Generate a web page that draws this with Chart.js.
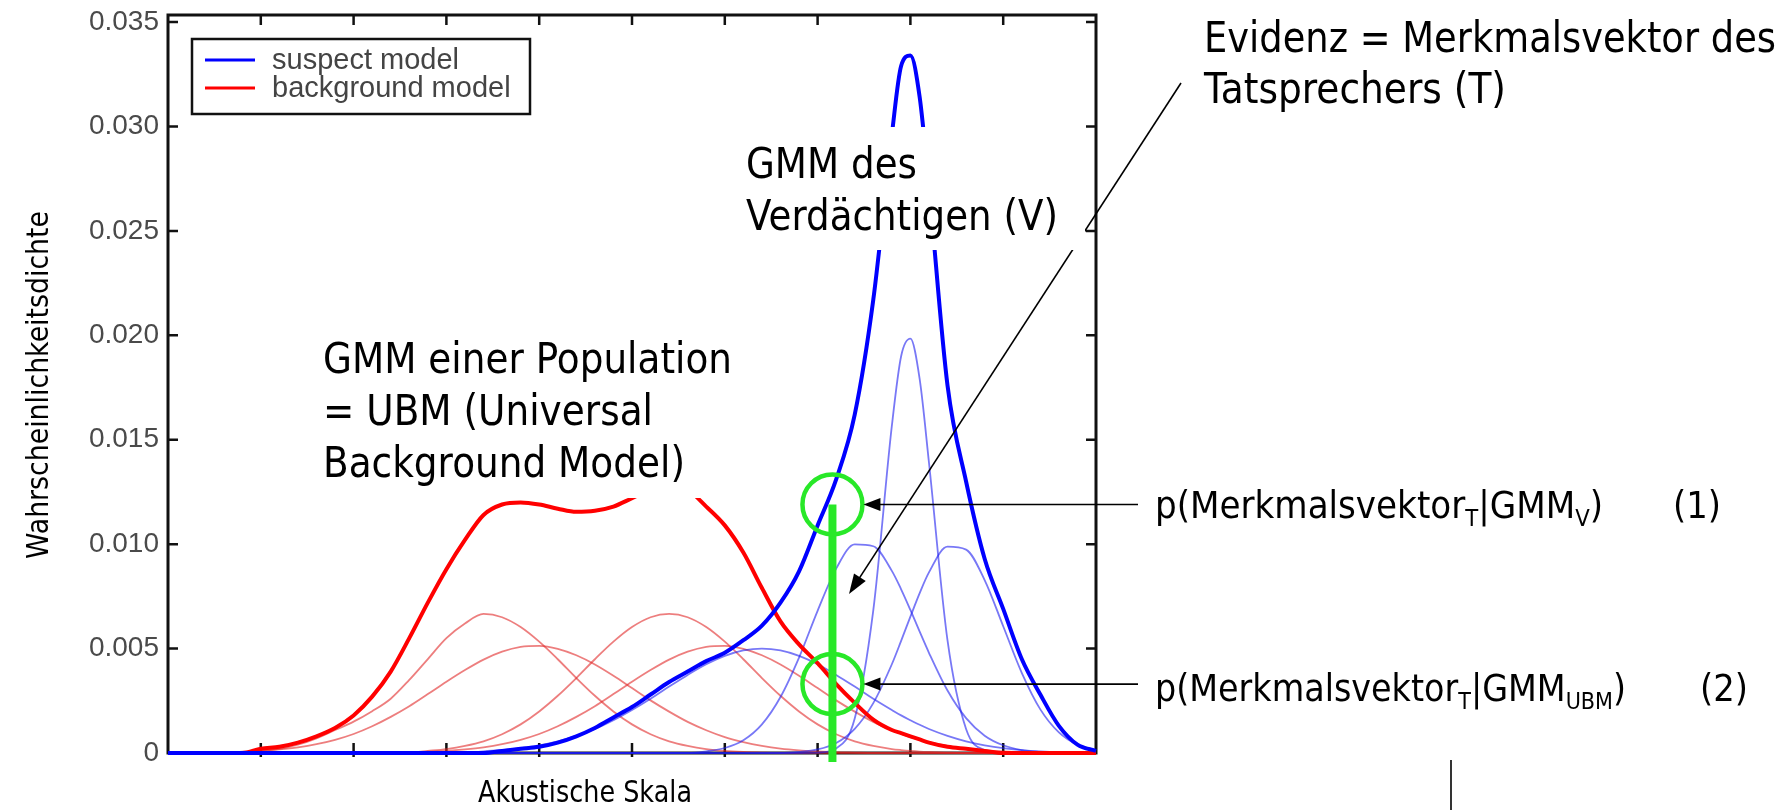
<!DOCTYPE html>
<html>
<head>
<meta charset="utf-8">
<title>GMM - Wahrscheinlichkeitsdichte</title>
<script src="https://cdn.jsdelivr.net/npm/chart.js@4.4.1/dist/chart.umd.min.js"></script>
<style>
  html, body { margin: 0; padding: 0; background: #fff; }
  canvas { display: block; }
</style>
</head>
<body>
<canvas id="chart" width="1789" height="810"></canvas>
<script>
// sample positions on the (unlabelled) acoustic scale
const xs = [0, 0.2, 0.4, 0.6, 0.8, 1, 1.2, 1.4, 1.6, 1.8,
  2, 2.2, 2.4, 2.6, 2.8, 3, 3.2, 3.4, 3.6, 3.8,
  4, 4.2, 4.4, 4.6, 4.8, 5, 5.2, 5.4, 5.6, 5.8,
  6, 6.2, 6.4, 6.6, 6.8, 7, 7.2, 7.4, 7.6, 7.8,
  7.9, 8, 8.1,
  8.2, 8.4, 8.6, 8.8, 9, 9.2, 9.4, 9.6, 9.8, 10];

// thick curves
const suspectModel = [0, 0, 0, 0, 0, 0, 0, 0, 0, 0,
  0, 0, 0, 0, 0, 0, 0, 0, 0.0001, 0.0002,
  0.0003, 0.0005, 0.0008, 0.0012, 0.0017, 0.0022, 0.0028, 0.0034, 0.0039, 0.0044,
  0.0048, 0.0054, 0.0061, 0.0072, 0.0087, 0.0109, 0.0131, 0.0162, 0.0217, 0.0296,
  0.0329, 0.0334, 0.0314,
  0.0271, 0.0176, 0.013, 0.0093, 0.0069, 0.0045, 0.0028, 0.0013, 0.0004, 0.0001];
const backgroundModel = [0, 0, 0, 0, 0, 0.0002, 0.0003, 0.0005, 0.0008, 0.0012,
  0.0018, 0.0027, 0.0039, 0.0055, 0.0072, 0.0088, 0.0102, 0.0114, 0.0119, 0.012,
  0.0119, 0.0117, 0.01155, 0.0116, 0.0118, 0.0122, 0.0126, 0.0128, 0.0126, 0.0118,
  0.0109, 0.0096, 0.0079, 0.0063, 0.0052, 0.0043, 0.0033, 0.0024, 0.0016, 0.0011,
  0.00095, 0.0008, 0.00065,
  0.0005, 0.0003, 0.0002, 0.0001, 0, 0, 0, 0, 0, 0];

// thin mixture components of the suspect GMM
const suspectComp1 = [0, 0, 0, 0, 0, 0, 0, 0, 0, 0,
  0, 0, 0, 0, 0, 0, 0, 0.00008, 0.00014, 0.00023,
  0.00037, 0.00056, 0.00082, 0.00115, 0.00157, 0.00206, 0.0026, 0.00318, 0.00374, 0.00425,
  0.00465, 0.00491, 0.005, 0.00491, 0.00465, 0.00425, 0.00374, 0.00318, 0.0026, 0.00206,
  0.0018, 0.00157, 0.00135,
  0.00115, 0.00082, 0.00056, 0.00037, 0.00023, 0.00014, 0.00008, 0.00004, 0.00002, 0];
const suspectComp2 = [0, 0, 0, 0, 0, 0, 0, 0, 0, 0,
  0, 0, 0, 0, 0, 0, 0, 0, 0, 0,
  0, 0, 0, 0, 0, 0, 0, 0, 0, 0.00008,
  0.00024, 0.00061, 0.00137, 0.00268, 0.00457, 0.00681, 0.00883, 0.00999, 0.0099, 0.00872,
  0.00784, 0.00685, 0.00581,
  0.0048, 0.00299, 0.00167, 0.00083, 0.00037, 0.00014, 0.00005, 0, 0, 0];
const suspectComp3 = [0, 0, 0, 0, 0, 0, 0, 0, 0, 0,
  0, 0, 0, 0, 0, 0, 0, 0, 0, 0,
  0, 0, 0, 0, 0, 0, 0, 0, 0, 0,
  0, 0, 0, 0, 0, 0.00002, 0.00022, 0.00165, 0.00683, 0.01566,
  0.019, 0.01984, 0.0179,
  0.01391, 0.00539, 0.00115, 0.00014, 0.00001, 0, 0, 0, 0, 0];
const suspectComp4 = [0, 0, 0, 0, 0, 0, 0, 0, 0, 0,
  0, 0, 0, 0, 0, 0, 0, 0, 0, 0,
  0, 0, 0, 0, 0, 0, 0, 0, 0, 0,
  0, 0, 0, 0, 0.00005, 0.00017, 0.00048, 0.00116, 0.00239, 0.00425,
  0.00537, 0.00653, 0.00766,
  0.00865, 0.00988, 0.00974, 0.00828, 0.00607, 0.00384, 0.00209, 0.00099, 0.0004, 0.00014];

// thin mixture components of the background model (UBM)
const backgroundComp1 = [0, 0, 0, 0, 0.00005, 0.0001, 0.0002, 0.0004, 0.0007, 0.0011,
  0.0015, 0.002, 0.0026, 0.0035, 0.0045, 0.0055, 0.0062, 0.00666, 0.0065, 0.00603,
  0.00533, 0.00449, 0.00359, 0.00274, 0.00199, 0.00137, 0.0009, 0.00056, 0.00034, 0.00019,
  0.0001, 0.00005, 0.00002, 0, 0, 0, 0, 0, 0, 0,
  0, 0, 0,
  0, 0, 0, 0, 0, 0, 0, 0, 0, 0];
const backgroundComp2 = [0, 0, 0, 0, 0.00006, 0.0001, 0.00017, 0.00027, 0.00042, 0.00063,
  0.00091, 0.00128, 0.00173, 0.00224, 0.00282, 0.00341, 0.00397, 0.00447, 0.00485, 0.00508,
  0.00513, 0.00499, 0.00468, 0.00424, 0.0037, 0.00311, 0.00252, 0.00198, 0.00149, 0.00109,
  0.00076, 0.00052, 0.00034, 0.00021, 0.00013, 0.00008, 0.00004, 0.00002, 0, 0,
  0, 0, 0,
  0, 0, 0, 0, 0, 0, 0, 0, 0, 0];
const backgroundComp3 = [0, 0, 0, 0, 0, 0, 0, 0, 0, 0,
  0, 0, 0, 0.00002, 0.0001, 0.00019, 0.00034, 0.00056, 0.0009, 0.00137,
  0.00199, 0.00274, 0.00359, 0.00449, 0.00533, 0.00603, 0.0065, 0.00666, 0.0065, 0.00603,
  0.00533, 0.00449, 0.00359, 0.00274, 0.00199, 0.00137, 0.0009, 0.00056, 0.00034, 0.00019,
  0.00014, 0.0001, 0.00007,
  0.00005, 0.00002, 0, 0, 0, 0, 0, 0, 0, 0];
const backgroundComp4 = [0, 0, 0, 0, 0, 0, 0, 0, 0, 0,
  0, 0, 0, 0, 0.00006, 0.0001, 0.00017, 0.00027, 0.00042, 0.00063,
  0.00091, 0.00128, 0.00173, 0.00224, 0.00282, 0.00341, 0.00397, 0.00447, 0.00485, 0.00508,
  0.00513, 0.00499, 0.00468, 0.00424, 0.0037, 0.00311, 0.00252, 0.00198, 0.00149, 0.00109,
  0.00092, 0.00076, 0.00064,
  0.00052, 0.00034, 0.00021, 0.00013, 0.00008, 0.00004, 0.00002, 0, 0, 0];

const xTickValues = [0, 1, 2, 3, 4, 5, 6, 7, 8, 9, 10];
const yTickValues = [0, 0.005, 0.01, 0.015, 0.02, 0.025, 0.03, 0.035];
const yTickLabels = ['0', '0.005', '0.010', '0.015', '0.020', '0.025', '0.030', '0.035'];
const seriesLabels = ['suspect model', 'background model'];

// the evidence vector and the two likelihoods that are marked
const evidenceX = 7.16;
const evidenceLik = [0.0119, 0.0033];

const TEXT_FONT = '"DejaVu Sans", Verdana, sans-serif';
const GREEN = 'rgb(40, 232, 40)';

function pts(arr) {
  return xs.map((x, i) => ({ x: x, y: arr[i] }));
}

// Tahoma-like text: DejaVu squeezed to the measured width
function fitText(ctx, text, x, y, size, width, rotate) {
  ctx.save();
  ctx.font = size + 'px ' + TEXT_FONT;
  const sx = width / ctx.measureText(text).width;
  ctx.translate(x, y);
  if (rotate) ctx.rotate(rotate);
  ctx.scale(sx, 1);
  ctx.textAlign = 'left';
  ctx.textBaseline = 'alphabetic';
  ctx.fillStyle = '#000';
  ctx.fillText(text, 0, 0);
  ctx.restore();
}

// text with subscripts, parts = [[text, isSub], ...]
function richText(ctx, parts, x, y, size, width) {
  const subSize = Math.round(size * 0.62);
  ctx.save();
  let natural = 0;
  parts.forEach(p => {
    ctx.font = (p[1] ? subSize : size) + 'px ' + TEXT_FONT;
    natural += ctx.measureText(p[0]).width;
  });
  ctx.translate(x, y);
  ctx.scale(width / natural, 1);
  ctx.fillStyle = '#000';
  ctx.textBaseline = 'alphabetic';
  let cx = 0;
  parts.forEach(p => {
    ctx.font = (p[1] ? subSize : size) + 'px ' + TEXT_FONT;
    ctx.fillText(p[0], cx, p[1] ? size * 0.22 : 0);
    cx += ctx.measureText(p[0]).width;
  });
  ctx.restore();
}

function arrow(ctx, x1, y1, x2, y2, len, half) {
  const a = Math.atan2(y2 - y1, x2 - x1);
  const c = Math.cos(a), s = Math.sin(a);
  ctx.beginPath();
  ctx.moveTo(x1, y1);
  ctx.lineTo(x2 - c * len * 0.8, y2 - s * len * 0.8);
  ctx.stroke();
  ctx.beginPath();
  ctx.moveTo(x2, y2);
  ctx.lineTo(x2 - len * c + half * s, y2 - len * s - half * c);
  ctx.lineTo(x2 - len * c - half * s, y2 - len * s + half * c);
  ctx.closePath();
  ctx.fill();
}

const overlay = {
  id: 'overlay',
  beforeDatasetsDraw(chart) {
    const { ctx, chartArea: a, scales: { x, y } } = chart;
    ctx.save();
    // matlab style box with inward ticks
    ctx.strokeStyle = '#111';
    ctx.lineWidth = 3;
    ctx.strokeRect(a.left, a.top, a.right - a.left, a.bottom - a.top);
    ctx.lineWidth = 2.5;
    ctx.beginPath();
    x.ticks.forEach(t => {
      if (t.value <= x.min || t.value >= x.max) return;
      const px = x.getPixelForValue(t.value);
      ctx.moveTo(px, a.top); ctx.lineTo(px, a.top + 10);
      ctx.moveTo(px, a.bottom + 4); ctx.lineTo(px, a.bottom - 10);
    });
    y.ticks.forEach(t => {
      const py = y.getPixelForValue(t.value);
      ctx.moveTo(a.left, py); ctx.lineTo(a.left + 10, py);
      ctx.moveTo(a.right, py); ctx.lineTo(a.right - 10, py);
    });
    ctx.stroke();
    fitText(ctx, 'Akustische Skala', 478, 802, 30, 214);
    fitText(ctx, 'Wahrscheinlichkeitsdichte', 48, 559, 31, 348, -Math.PI / 2);
    ctx.restore();
  },
  afterDatasetsDraw(chart) {
    const { ctx, chartArea: a, scales: { x, y } } = chart;
    const ds = chart.data.datasets;
    ctx.save();

    // legend
    ctx.fillStyle = '#fff';
    ctx.fillRect(192, 39, 338, 75);
    ctx.strokeStyle = '#111';
    ctx.lineWidth = 2.5;
    ctx.strokeRect(192, 39, 338, 75);
    ctx.font = '29px "Liberation Sans", Arial, sans-serif';
    ctx.textBaseline = 'middle';
    [0, 1].forEach(i => {
      const ly = i === 0 ? 60 : 88;
      ctx.strokeStyle = ds[i].borderColor;
      ctx.lineWidth = 3;
      ctx.beginPath(); ctx.moveTo(205, ly); ctx.lineTo(255, ly); ctx.stroke();
      ctx.fillStyle = '#444';
      ctx.fillText(ds[i].label, 272, ly + 1);
    });

    // pointer from the evidence text down to the suspect components
    ctx.strokeStyle = '#000';
    ctx.fillStyle = '#000';
    ctx.lineWidth = 1.6;
    arrow(ctx, 1181, 83, 849, 594, 20, 7);

    // white text boxes hide what lies behind them
    ctx.fillStyle = '#fff';
    ctx.fillRect(314, 335, 426, 163);
    ctx.fillRect(736, 127, 349, 123);
    ctx.fillRect(1195, 0, 594, 115);

    fitText(ctx, 'Evidenz = Merkmalsvektor des', 1204, 52, 42, 572);
    fitText(ctx, 'Tatsprechers (T)', 1204, 103, 42, 302);
    fitText(ctx, 'GMM des', 746, 178, 42, 171);
    fitText(ctx, 'Verdächtigen (V)', 746, 230, 42, 312);
    fitText(ctx, 'GMM einer Population', 323, 373, 42, 409);
    fitText(ctx, '= UBM (Universal', 323, 425, 42, 330);
    fitText(ctx, 'Background Model)', 323, 477, 42, 362);

    // evidence marker
    const gx = x.getPixelForValue(evidenceX);
    const gy1 = y.getPixelForValue(evidenceLik[0]);
    const gy2 = y.getPixelForValue(evidenceLik[1]);
    ctx.strokeStyle = GREEN;
    ctx.lineWidth = 8;
    ctx.beginPath(); ctx.moveTo(gx, gy1); ctx.lineTo(gx, a.bottom + 9); ctx.stroke();
    ctx.lineWidth = 4.5;
    [gy1, gy2].forEach(gy => {
      ctx.beginPath(); ctx.arc(gx, gy, 30, 0, Math.PI * 2); ctx.stroke();
    });

    ctx.strokeStyle = '#000';
    ctx.fillStyle = '#000';
    ctx.lineWidth = 1.6;
    arrow(ctx, 1138, gy1, gx + 31, gy1, 17, 6.5);
    arrow(ctx, 1138, gy2, gx + 31, gy2, 17, 6.5);

    richText(ctx, [['p(Merkmalsvektor', false], ['T', true], ['|GMM', false], ['V', true], [')', false]], 1155, 518, 37, 448);
    richText(ctx, [['p(Merkmalsvektor', false], ['T', true], ['|GMM', false], ['UBM', true], [')', false]], 1155, 701, 37, 471);
    fitText(ctx, '(1)', 1673, 518, 37, 48);
    fitText(ctx, '(2)', 1700, 701, 37, 48);

    ctx.strokeStyle = '#000';
    ctx.lineWidth = 1.6;
    ctx.beginPath(); ctx.moveTo(1451, 760); ctx.lineTo(1451, 810); ctx.stroke();
    ctx.restore();
  }
};

const thinBlue = 'rgba(30, 30, 240, 0.6)';
const thinRed = 'rgba(225, 40, 40, 0.6)';

function line(data, color, width, order, label) {
  return {
    label: label,
    data: pts(data),
    borderColor: color,
    borderWidth: width,
    pointRadius: 0,
    fill: false,
    cubicInterpolationMode: 'monotone',
    clip: false,
    order: order
  };
}

new Chart(document.getElementById('chart'), {
  type: 'line',
  data: {
    datasets: [
      line(suspectModel, '#0000ff', 4, 0, seriesLabels[0]),
      line(backgroundModel, '#ff0000', 4, 1, seriesLabels[1]),
      line(suspectComp1, thinBlue, 1.8, 2),
      line(suspectComp2, thinBlue, 1.8, 2),
      line(suspectComp3, thinBlue, 1.8, 2),
      line(suspectComp4, thinBlue, 1.8, 2),
      line(backgroundComp1, thinRed, 1.8, 3),
      line(backgroundComp2, thinRed, 1.8, 3),
      line(backgroundComp3, thinRed, 1.8, 3),
      line(backgroundComp4, thinRed, 1.8, 3)
    ]
  },
  options: {
    responsive: false,
    animation: false,
    devicePixelRatio: 1,
    layout: { padding: { left: 0, top: 15, right: 693, bottom: 0 } },
    plugins: { legend: { display: false }, tooltip: { enabled: false } },
    scales: {
      x: {
        type: 'linear',
        min: 0,
        max: 10,
        grid: { display: false, drawTicks: false },
        border: { display: false },
        ticks: { display: false },
        afterBuildTicks: s => { s.ticks = xTickValues.map(v => ({ value: v })); },
        afterFit: s => { s.height = 57; s.paddingLeft = 0; s.paddingRight = 0; }
      },
      y: {
        min: 0,
        max: 0.03534,
        grid: { display: false, drawTicks: false },
        border: { display: false },
        ticks: {
          padding: 9,
          color: '#4a4a4a',
          font: { family: '"Liberation Sans", Arial, sans-serif', size: 28 },
          callback: (v, i) => yTickLabels[i]
        },
        afterBuildTicks: s => { s.ticks = yTickValues.map(v => ({ value: v })); },
        afterFit: s => { s.width = 168; s.paddingTop = 0; s.paddingBottom = 0; }
      }
    }
  },
  plugins: [overlay]
});
</script>
</body>
</html>
